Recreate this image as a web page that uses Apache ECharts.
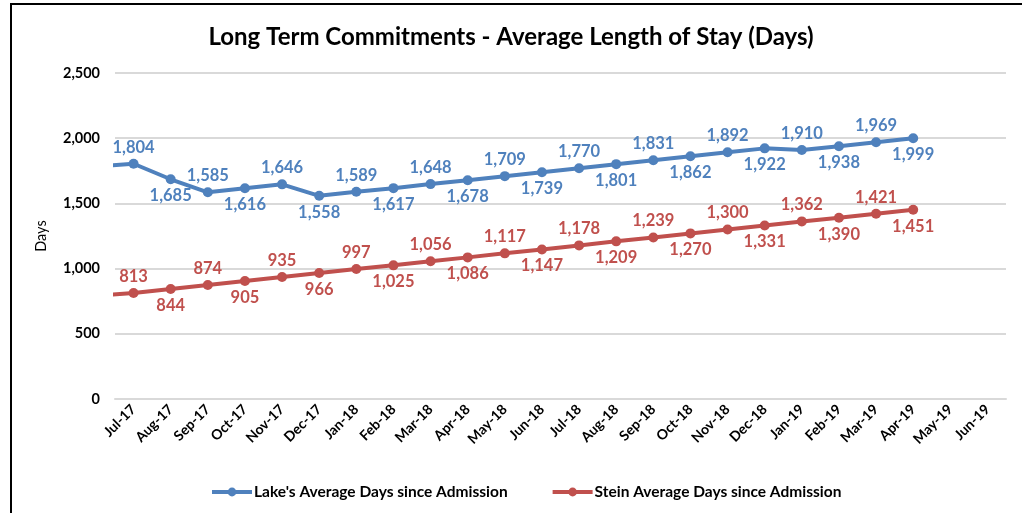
<!DOCTYPE html>
<html>
<head>
<meta charset="utf-8">
<script src="https://cdn.jsdelivr.net/npm/echarts@6/dist/echarts.min.js"></script>
<style>
  html, body { margin: 0; padding: 0; background: #fff; }
  #chart { width: 1022px; height: 513px; }
</style>
</head>
<body>
<div id="chart"></div>
<script>
// Months shown on the category axis
const months = ['Jul-17','Aug-17','Sep-17','Oct-17','Nov-17','Dec-17','Jan-18','Feb-18','Mar-18','Apr-18',
  'May-18','Jun-18','Jul-18','Aug-18','Sep-18','Oct-18','Nov-18','Dec-18','Jan-19','Feb-19','Mar-19',
  'Apr-19','May-19','Jun-19'];

// Average days since admission, one value per month (no data yet for May-19 / Jun-19)
const lakeDays  = [1804,1685,1585,1616,1646,1558,1589,1617,1648,1678,1709,1739,1770,1801,1831,1862,1892,1922,1910,1938,1969,1999];
const steinDays = [813,844,874,905,935,966,997,1025,1056,1086,1117,1147,1178,1209,1239,1270,1300,1331,1362,1390,1421,1451];

// Previous month (Jun-17), whose line segment runs in from the left edge of the plot
const lakePrior  = 1784;
const steinPrior = 793;

const yTicks = { min: 0, max: 2500, interval: 500 };

const seriesNames = ["Lake's Average Days since Admission", 'Stein Average Days since Admission'];
const BLUE = '#4F81BD';
const RED  = '#C0504D';
const FONT = 'Lato, "Open Sans", sans-serif';

const fmt = v => Number(v).toLocaleString('en-US');

// Points on a numeric x scale aligned with the category bands (index 0 = first month)
function toPoints(prior, values) {
  const pts = [{ value: [-1, prior], label: { show: false } }];
  values.forEach((v, i) => {
    pts.push({ value: [i, v], label: { position: i % 2 === 0 ? 'top' : 'bottom' } });
  });
  return pts;
}

function lineSeries(name, color, prior, values) {
  return {
    name: name,
    type: 'line',
    xAxisIndex: 1,
    data: toPoints(prior, values),
    clip: true,
    symbol: 'circle',
    symbolSize: 10,
    lineStyle: { color: color, width: 4 },
    itemStyle: { color: color },
    label: {
      show: true,
      color: color,
      fontFamily: FONT,
      fontWeight: 'bold',
      fontSize: 16.5,
      distance: 3,
      formatter: p => fmt(p.value[1])
    },
    emphasis: { disabled: true },
    animation: false
  };
}

const chart = echarts.init(document.getElementById('chart'), null, { renderer: 'canvas' });

chart.setOption({
  backgroundColor: '#fff',
  animation: false,
  title: {
    text: 'Long Term Commitments - Average Length of Stay (Days)',
    left: 'center',
    top: 20,
    textStyle: { fontFamily: FONT, fontWeight: 'bold', fontSize: 24, color: '#000' }
  },
  graphic: [{
    type: 'rect',
    shape: { x: 11, y: 4, width: 1030, height: 530 },
    style: { fill: 'none', stroke: '#000', lineWidth: 2 },
    silent: true,
    z: 100
  }],
  legend: {
    top: 479,
    left: 205,
    itemWidth: 40,
    itemHeight: 11,
    itemGap: 43,
    data: seriesNames,
    lineStyle: { width: 4 },
    textStyle: { fontFamily: FONT, fontWeight: 'bold', fontSize: 15.5, color: '#000', padding: [0, 0, 0, -3] }
  },
  grid: { left: 115, right: 16, top: 73, bottom: 114, containLabel: false },
  xAxis: [{
    type: 'category',
    data: months,
    boundaryGap: true,
    axisLine: { show: true, lineStyle: { color: '#d9d9d9', width: 2 } },
    axisTick: { show: false },
    axisLabel: {
      rotate: 45,
      interval: 0,
      margin: 8,
      fontFamily: FONT,
      fontWeight: 'bold',
      fontSize: 14,
      color: '#000'
    }
  }, {
    type: 'value',
    min: -0.5,
    max: months.length - 0.5,
    show: false,
    splitLine: { show: false }
  }],
  yAxis: {
    type: 'value',
    min: yTicks.min,
    max: yTicks.max,
    interval: yTicks.interval,
    name: 'Days',
    nameLocation: 'middle',
    nameRotate: 90,
    nameGap: 66,
    nameTextStyle: { fontFamily: FONT, fontSize: 14.5, color: '#000' },
    axisLine: { show: false },
    axisTick: { show: false },
    splitLine: { lineStyle: { color: '#d9d9d9', width: 2 } },
    axisLabel: {
      margin: 15,
      fontFamily: FONT,
      fontWeight: 'bold',
      fontSize: 14.5,
      color: '#000',
      formatter: v => fmt(v)
    }
  },
  series: [
    lineSeries(seriesNames[0], BLUE, lakePrior, lakeDays),
    lineSeries(seriesNames[1], RED, steinPrior, steinDays)
  ]
});
</script>
</body>
</html>
